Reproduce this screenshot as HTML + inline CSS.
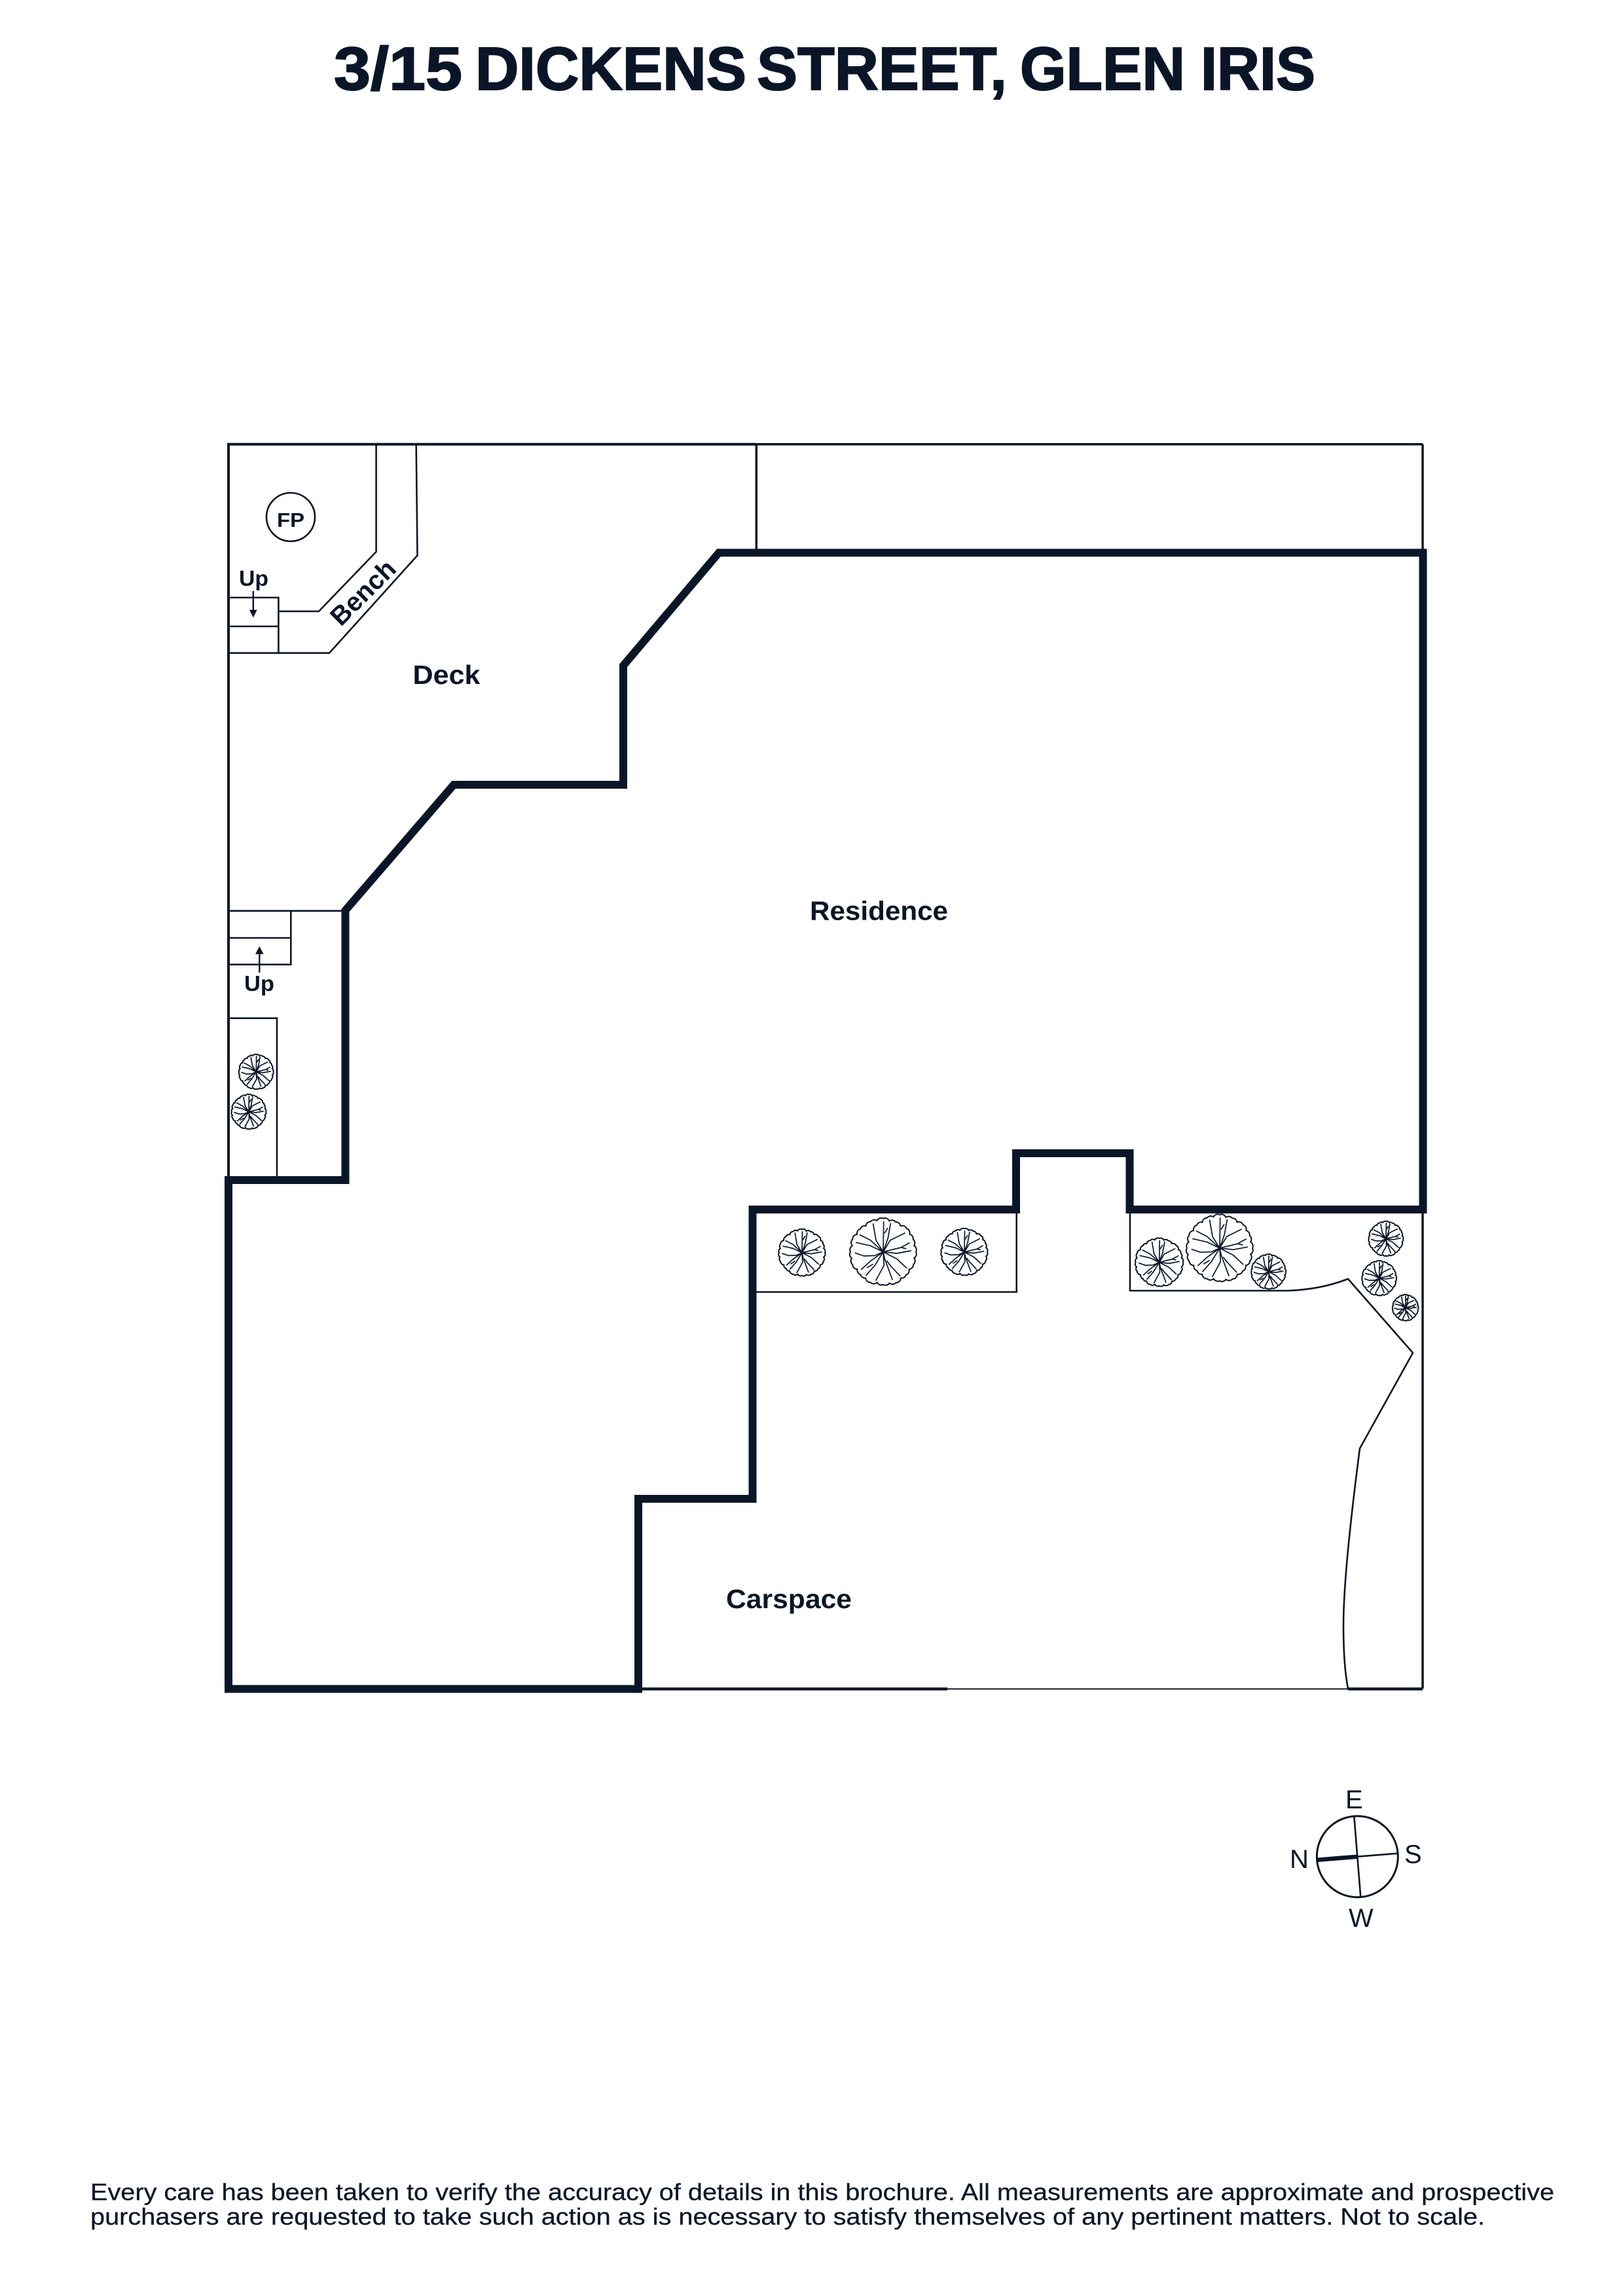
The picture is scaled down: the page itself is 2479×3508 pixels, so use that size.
<!DOCTYPE html>
<html lang="en">
<head>
<meta charset="utf-8">
<title>3/15 Dickens Street, Glen Iris</title>
<style>
html,body{margin:0;padding:0;background:#fff}
svg{display:block}
text{font-family:"Liberation Sans",sans-serif;fill:#0a1628}
.b{font-weight:700}
</style>
</head>
<body>
<svg xmlns="http://www.w3.org/2000/svg" width="2479" height="3508" viewBox="0 0 2479 3508">
<defs>
<g id="tree">
<path fill="#fff" stroke="#0a1628" stroke-width="2" vector-effect="non-scaling-stroke" stroke-linejoin="round" d="M50 0A7 7 0 0 1 47.1 9.4A7 7 0 0 1 46.2 19.2A7 7 0 0 1 39.5 26.4A7 7 0 0 1 35 35A7 7 0 0 1 26.7 39.9A7 7 0 0 1 19.5 47.1A7 7 0 0 1 9.5 47.6A7 7 0 0 1 0 50A7 7 0 0 1 -9.3 46.6A7 7 0 0 1 -19.3 46.7A7 7 0 0 1 -26.7 39.9A7 7 0 0 1 -34.6 34.6A7 7 0 0 1 -39.5 26.4A7 7 0 0 1 -46.7 19.3A7 7 0 0 1 -48.1 9.6A7 7 0 0 1 -50 0A7 7 0 0 1 -47.1 -9.4A7 7 0 0 1 -46.7 -19.3A7 7 0 0 1 -39.9 -26.7A7 7 0 0 1 -35 -35A7 7 0 0 1 -26.4 -39.5A7 7 0 0 1 -19.2 -46.2A7 7 0 0 1 -9.5 -47.6A7 7 0 0 1 0 -51A7 7 0 0 1 9.4 -47.1A7 7 0 0 1 19 -45.7A7 7 0 0 1 26.4 -39.5A7 7 0 0 1 35.7 -35.7A7 7 0 0 1 40.3 -27A7 7 0 0 1 45.7 -19A7 7 0 0 1 47.1 -9.4A7 7 0 0 1 50 0Z"/>
<path fill="none" stroke="#0a1628" stroke-width="1.7" vector-effect="non-scaling-stroke" stroke-linecap="round" stroke-linejoin="round" d="M0 0L.7 -46M2.3 -29L6.7 -36M0 0L-11 -17.7L-15.3 -42.7M0 0L7.3 -21L11.3 -43.3M0 0L10.7 -17.7L33 -28.7M0 0L-19.3 -17.7L-35.3 -26M0 0L-19.3 -9.3L-41 -14.3M0 0L-12.7 5.7L-29.3 6.3L-42.7 1.7M0 0L27.3 -6.7L40 -13.7M27.3 -6.7L34.7 -5M0 0L20.7 2.3L42.3 -1.7M0 0L20.7 10.7L35.7 24.7M0 0L2.3 10.7L14 42.3M5.7 14L10.7 20.7L25.7 36.7M0 0L1.3 20.7L-11 43.3M0 0L-12.7 20.7L-26 35.7M0 0L-19.3 14L-33.3 26.7M-16 19L-24.3 24"/>
</g>
</defs>

<g class="b" font-size="93" stroke="#0a1628" stroke-width="2">
<text class="b" x="510" y="137" textLength="196" lengthAdjust="spacingAndGlyphs">3/15</text>
<text class="b" x="726" y="137" textLength="414" lengthAdjust="spacingAndGlyphs">DICKENS</text>
<text class="b" x="1156" y="137" textLength="382" lengthAdjust="spacingAndGlyphs">STREET,</text>
<text class="b" x="1558" y="137" textLength="252" lengthAdjust="spacingAndGlyphs">GLEN</text>
<text class="b" x="1834" y="137" textLength="175" lengthAdjust="spacingAndGlyphs">IRIS</text>
</g>

<!-- thin outer boundary -->
<g fill="none" stroke="#0a1628">
<path stroke-width="4" d="M349 1803V678.7H1155.3"/>
<path stroke-width="3.5" d="M1155.3 678.7H2173M1155.3 678.7V842M2173 678.7V844"/>
<path stroke-width="3.5" d="M2173 1850V2580"/>
<path stroke-width="4.5" d="M2059 2580.5H2173M981 2580.5H1447"/>
<path stroke-width="2" d="M1447 2580.5H2059"/>

<!-- bench -->
<path stroke-width="2.6" d="M574.6 680V843L487 934H425.4M635.7 680L637.5 848.7L503 997.7H349"/>
<!-- top stairs -->
<path stroke-width="2.6" d="M349 913H425.4V997.7M349 957H425.4"/>
<circle cx="444" cy="790" r="37" stroke-width="2.6"/>
<path stroke-width="2.4" d="M386.8 903V933"/>

<!-- side stairs and planter -->
<path stroke-width="2.6" d="M349 1391.7H527M349 1433H444.3M444.3 1391.7V1473.7H349M349 1555.7H423V1800"/>
<path stroke-width="2.4" d="M396.3 1456V1486"/>

<!-- front planters -->
<path stroke-width="2.6" d="M1152 1974H1552.7V1850"/>
<path stroke-width="2.6" stroke-linejoin="round" d="M1726 1850V1972H1967Q2018 1970 2059 1954L2158 2067L2077 2213C2063 2320 2052 2420 2052 2483C2052 2520 2054 2555 2059 2580"/>

<!-- compass -->
<circle cx="2073.3" cy="2836.7" r="62" stroke-width="3"/>
<path stroke-width="2.6" d="M2068.3 2775L2078.3 2899M2073.3 2836.7L2135.7 2831.7"/>
<path stroke-width="6.5" d="M2011.7 2841.7L2073.3 2836.7"/>
</g>

<path fill="#0a1628" d="M380.8 931.7H392.8L386.8 943.5Z"/>
<path fill="#0a1628" d="M396.3 1445.7L402.6 1457.7H390Z"/>

<!-- thick walls -->
<path fill="none" stroke="#0a1628" stroke-width="12" stroke-linejoin="miter" d="M349 1803H527.5V1391L693 1199H952V1017L1098 844.5H2173.5V1848H1725.5V1762H1552V1848H1149.5V2290H975V2580.5H349Z"/>

<!-- trees -->
<use href="#tree" transform="translate(391.3 1637.7) scale(.52)"/>
<use href="#tree" transform="translate(380 1698.7) scale(.52)"/>
<use href="#tree" transform="translate(1225 1914) scale(.7)"/>
<use href="#tree" transform="translate(1349 1912.7)"/>
<use href="#tree" transform="translate(1473 1913) scale(.7)"/>
<use href="#tree" transform="translate(1770.7 1928.7) scale(.72)"/>
<use href="#tree" transform="translate(1863 1907)"/>
<use href="#tree" transform="translate(1937.7 1943) scale(.52)"/>
<use href="#tree" transform="translate(2117 1892.7) scale(.52)"/>
<use href="#tree" transform="translate(2106.7 1953) scale(.52)"/>
<use href="#tree" transform="translate(2146.7 1998) scale(.39)"/>

<!-- labels -->
<text class="b" x="423" y="805" font-size="31" textLength="42" lengthAdjust="spacingAndGlyphs">FP</text>
<text class="b" x="365" y="895" font-size="33" textLength="45" lengthAdjust="spacingAndGlyphs">Up</text>
<text class="b" x="373" y="1514" font-size="33" textLength="46" lengthAdjust="spacingAndGlyphs">Up</text>
<text class="b" x="0" y="0" font-size="40" text-anchor="middle" transform="translate(564 915) rotate(-45)">Bench</text>
<text class="b" x="630.5" y="1045" font-size="41" textLength="103" lengthAdjust="spacingAndGlyphs">Deck</text>
<text class="b" x="1237" y="1405.7" font-size="41" textLength="211" lengthAdjust="spacingAndGlyphs">Residence</text>
<text class="b" x="1109" y="2457" font-size="41" textLength="192" lengthAdjust="spacingAndGlyphs">Carspace</text>

<text x="2055" y="2763" font-size="40">E</text>
<text x="1970" y="2854" font-size="40">N</text>
<text x="2145" y="2846.7" font-size="40">S</text>
<text x="2060" y="2944" font-size="40">W</text>

<text x="138" y="3361.7" font-size="36" stroke="#0a1628" stroke-width=".3" textLength="2236" lengthAdjust="spacingAndGlyphs">Every care has been taken to verify the accuracy of details in this brochure. All measurements are approximate and prospective</text>
<text x="138" y="3399" font-size="36" stroke="#0a1628" stroke-width=".3" textLength="2130" lengthAdjust="spacingAndGlyphs">purchasers are requested to take such action as is necessary to satisfy themselves of any pertinent matters. Not to scale.</text>
</svg>
</body>
</html>
